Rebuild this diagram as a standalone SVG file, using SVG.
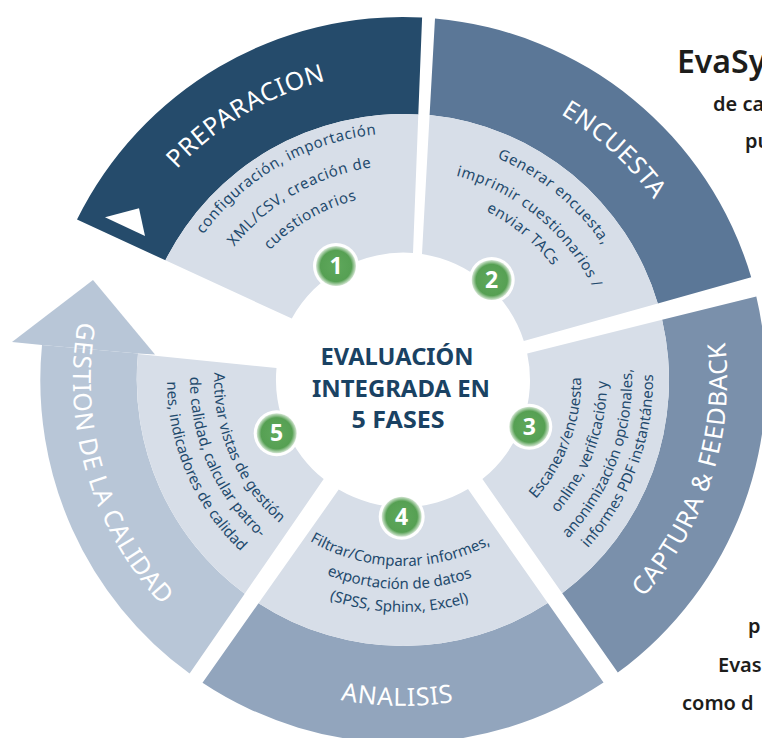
<svg xmlns="http://www.w3.org/2000/svg" width="762" height="738" viewBox="0 0 762 738">
<defs>
<style>
.title{font-family:"Noto Sans","Open Sans","DejaVu Sans",sans-serif;font-size:25px;font-weight:400;fill:#ffffff;letter-spacing:0.7px;text-anchor:middle}
.desc{font-family:"Noto Sans","Open Sans","DejaVu Sans",sans-serif;font-size:15px;fill:#1f4a6d;text-anchor:middle}
.wide{letter-spacing:0.6px}
.light{fill:#d7dee8}
.num{font-family:"Noto Sans","DejaVu Sans",sans-serif;font-size:23px;font-weight:700;fill:#ffffff;text-anchor:middle}
.ctr{font-family:"Noto Sans","DejaVu Sans",sans-serif;font-size:24px;font-weight:700;fill:#1a4263;text-anchor:middle}
.side{font-family:"Noto Sans","Open Sans",sans-serif;fill:#1d1d1b;font-weight:600}
</style>
<radialGradient id="gb" cx="0.5" cy="0.5" r="0.5">
<stop offset="0" stop-color="#5fa85c"/>
<stop offset="0.78" stop-color="#56a053"/>
<stop offset="1" stop-color="#d4e6d3"/>
</radialGradient>
<path id="cw309" d="M-290.4,-105.7 A309,309 0 0 1 290.4,-105.7"/>
<path id="cw247" d="M-232.1,-84.5 A247,247 0 0 1 232.1,-84.5"/>
<path id="cw215" d="M-202,-73.5 A215,215 0 0 1 202,-73.5"/>
<path id="cw186" d="M-174.8,-63.6 A186,186 0 0 1 174.8,-63.6"/>
<path id="cw241" d="M-226.5,-82.4 A241,241 0 0 1 226.5,-82.4"/>
<path id="cw211" d="M-198.3,-72.2 A211,211 0 0 1 198.3,-72.2"/>
<path id="cw188" d="M-176.7,-64.3 A188,188 0 0 1 176.7,-64.3"/>
<path id="cc324" d="M-304.5,110.8 A324,324 0 0 0 304.5,110.8"/>
<path id="cc326" d="M-306.3,111.5 A326,326 0 0 0 306.3,111.5"/>
<path id="cc330" d="M-310.1,112.9 A330,330 0 0 0 310.1,112.9"/>
<path id="cc178" d="M-167.3,60.9 A178,178 0 0 0 167.3,60.9"/>
<path id="cc204" d="M-191.7,69.8 A204,204 0 0 0 191.7,69.8"/>
<path id="cc229" d="M-215.2,78.3 A229,229 0 0 0 215.2,78.3"/>
<path id="cc250" d="M-234.9,85.5 A250,250 0 0 0 234.9,85.5"/>
<path id="cc186" d="M-174.8,63.6 A186,186 0 0 0 174.8,63.6"/>
<path id="cc209" d="M-196.4,71.5 A209,209 0 0 0 196.4,71.5"/>
<path id="cc232" d="M-218,79.3 A232,232 0 0 0 218,79.3"/>
<path id="cc189" d="M-177.6,64.6 A189,189 0 0 0 177.6,64.6"/>
<path id="cc213" d="M-200.2,72.8 A213,213 0 0 0 200.2,72.8"/>
<path id="cc236" d="M-221.8,80.7 A236,236 0 0 0 221.8,80.7"/>
</defs>
<rect width="762" height="738" fill="#ffffff"/>

<g id="connectors">
<polygon points="42,345 12,342 93,280 155,354.5 138,353.5" fill="#b8c6d7"/>
</g>

<g id="phase1">
<path d="M77,219.6 A363,363 0 0 1 422.1,17.5 L418.3,114.5 A266,266 0 0 0 165.4,260.3 Z" fill="#254b6b"/>
<polygon points="105,217.3 139,208.3 145,236" fill="#ffffff"/>
<path class="light" d="M165.4,260.3 A266,266 0 0 1 418.3,114.5 L413,253 A127,127 0 0 0 291.8,318.6 Z"/>
<g transform="translate(403,380) rotate(-30.7)">
<text class="title"><textPath href="#cw309" startOffset="50%">PREPARACION</textPath></text>
</g>
<g transform="translate(403,380) rotate(-30)">
<text class="desc wide"><textPath href="#cw247" startOffset="50%">configuración, importación</textPath></text>
<text class="desc wide"><textPath href="#cw215" startOffset="50%">XML/CSV, creación de</textPath></text>
<text class="desc wide"><textPath href="#cw186" startOffset="50%">cuestionarios</textPath></text>
</g>
</g>

<g id="phase2">
<path d="M435,18.5 A363,363 0 0 1 751.2,277.2 L657.8,303.4 A266,266 0 0 0 429.6,115 Z" fill="#5b7797"/>
<path class="light" d="M429.6,115 A266,266 0 0 1 657.8,303.4 L523.8,340.9 A127,127 0 0 0 422,254 Z"/>
<g transform="translate(403,380) rotate(42.5)">
<text class="title"><textPath href="#cw309" startOffset="50%">ENCUESTA</textPath></text>
</g>
<g transform="translate(403,380) rotate(39.5)">
<text class="desc wide"><textPath href="#cw241" startOffset="50%">Generar encuesta,</textPath></text>
<text class="desc wide"><textPath href="#cw211" startOffset="50%">imprimir cuestionarios /</textPath></text>
<text class="desc wide"><textPath href="#cw188" startOffset="50%">enviar TACs</textPath></text>
</g>
</g>

<g id="phase3">
<path d="M756.3,296.4 A363,363 0 0 1 617.8,672.6 L562.2,593.2 A266,266 0 0 0 662.1,319.8 Z" fill="#7a90ab"/>
<path class="light" d="M662.1,319.8 A266,266 0 0 1 562.2,593.2 L482.4,479.1 A127,127 0 0 0 527.2,353.4 Z"/>
<g transform="translate(403,380) rotate(-72.3)">
<text class="title"><textPath href="#cc324" startOffset="50%">CAPTURA &amp; FEEDBACK</textPath></text>
</g>
<g transform="translate(403,380) rotate(-69.5)">
<text class="desc"><textPath href="#cc178" startOffset="50%">Escanear/encuesta</textPath></text>
<text class="desc"><textPath href="#cc204" startOffset="50%">online, verificación y</textPath></text>
<text class="desc"><textPath href="#cc229" startOffset="50%">anonimización opcionales,</textPath></text>
<text class="desc"><textPath href="#cc250" startOffset="50%">informes PDF instantáneos</textPath></text>
</g>
</g>

<g id="phase4">
<path d="M603.5,682.6 A363,363 0 0 1 202.5,682.7 L258.5,603.3 A266,266 0 0 0 547.8,603.1 Z" fill="#92a5bd"/>
<path class="light" d="M547.8,603.1 A266,266 0 0 1 258.5,603.3 L338.7,489.6 A127,127 0 0 0 468,489.1 Z"/>
<g transform="translate(403,380) rotate(1)">
<text class="title"><textPath href="#cc326" startOffset="50%">ANALISIS</textPath></text>
<text class="desc"><textPath href="#cc186" startOffset="50%">Filtrar/Comparar informes,</textPath></text>
<text class="desc"><textPath href="#cc209" startOffset="50%">exportación de datos</textPath></text>
<text class="desc"><textPath href="#cc232" startOffset="50%">(SPSS, Sphinx, Excel)</textPath></text>
</g>
</g>

<g id="phase5">
<path d="M189.6,673.6 A363,363 0 0 1 42,345 L138,353.5 A266,266 0 0 0 244.7,593.7 Z" fill="#b8c6d7"/>
<path class="light" d="M138,354 L276.5,368 A127,127 0 0 0 323.7,479.1 L244.7,593.7 A266,266 0 0 1 138,354 Z"/>
<g transform="translate(403,380) rotate(73.5)">
<text class="title"><textPath href="#cc330" startOffset="50%">GESTION DE LA CALIDAD</textPath></text>
</g>
<g transform="translate(403,380) rotate(66.5)">
<text class="desc"><textPath href="#cc189" startOffset="50%">Activar vistas de gestión</textPath></text>
<text class="desc"><textPath href="#cc213" startOffset="50%">de calidad, calcular patro-</textPath></text>
<text class="desc"><textPath href="#cc236" startOffset="50%">nes, indicadores de calidad</textPath></text>
</g>
</g>

<g id="center">
<text class="ctr" x="397" y="365" textLength="153" lengthAdjust="spacingAndGlyphs">EVALUACIÓN</text>
<text class="ctr" x="401" y="397" textLength="178" lengthAdjust="spacingAndGlyphs">INTEGRADA EN</text>
<text class="ctr" x="398" y="428" textLength="93" lengthAdjust="spacingAndGlyphs">5 FASES</text>
</g>

<g id="badge1" transform="translate(336,266)"><circle r="23" fill="#ffffff"/><circle r="20" fill="url(#gb)"/><text class="num" y="8">1</text></g>
<g id="badge2" transform="translate(491.7,280)"><circle r="23" fill="#ffffff"/><circle r="20" fill="url(#gb)"/><text class="num" y="8">2</text></g>
<g id="badge3" transform="translate(529.3,426.7)"><circle r="23" fill="#ffffff"/><circle r="20" fill="url(#gb)"/><text class="num" y="8">3</text></g>
<g id="badge4" transform="translate(401.7,516.7)"><circle r="23" fill="#ffffff"/><circle r="20" fill="url(#gb)"/><text class="num" y="8">4</text></g>
<g id="badge5" transform="translate(276.7,433.3)"><circle r="23" fill="#ffffff"/><circle r="20" fill="url(#gb)"/><text class="num" y="8">5</text></g>

<g id="sidetext">
<text class="side" x="677" y="73" font-size="32" font-weight="700">EvaSy</text>
<text class="side" x="713" y="111" font-size="20">de ca</text>
<text class="side" x="745" y="148" font-size="20">pu</text>
<text class="side" x="748" y="633" font-size="20">p</text>
<text class="side" x="718" y="672" font-size="20">Evas</text>
<text class="side" x="682" y="710" font-size="20">como d</text>
</g>
</svg>
